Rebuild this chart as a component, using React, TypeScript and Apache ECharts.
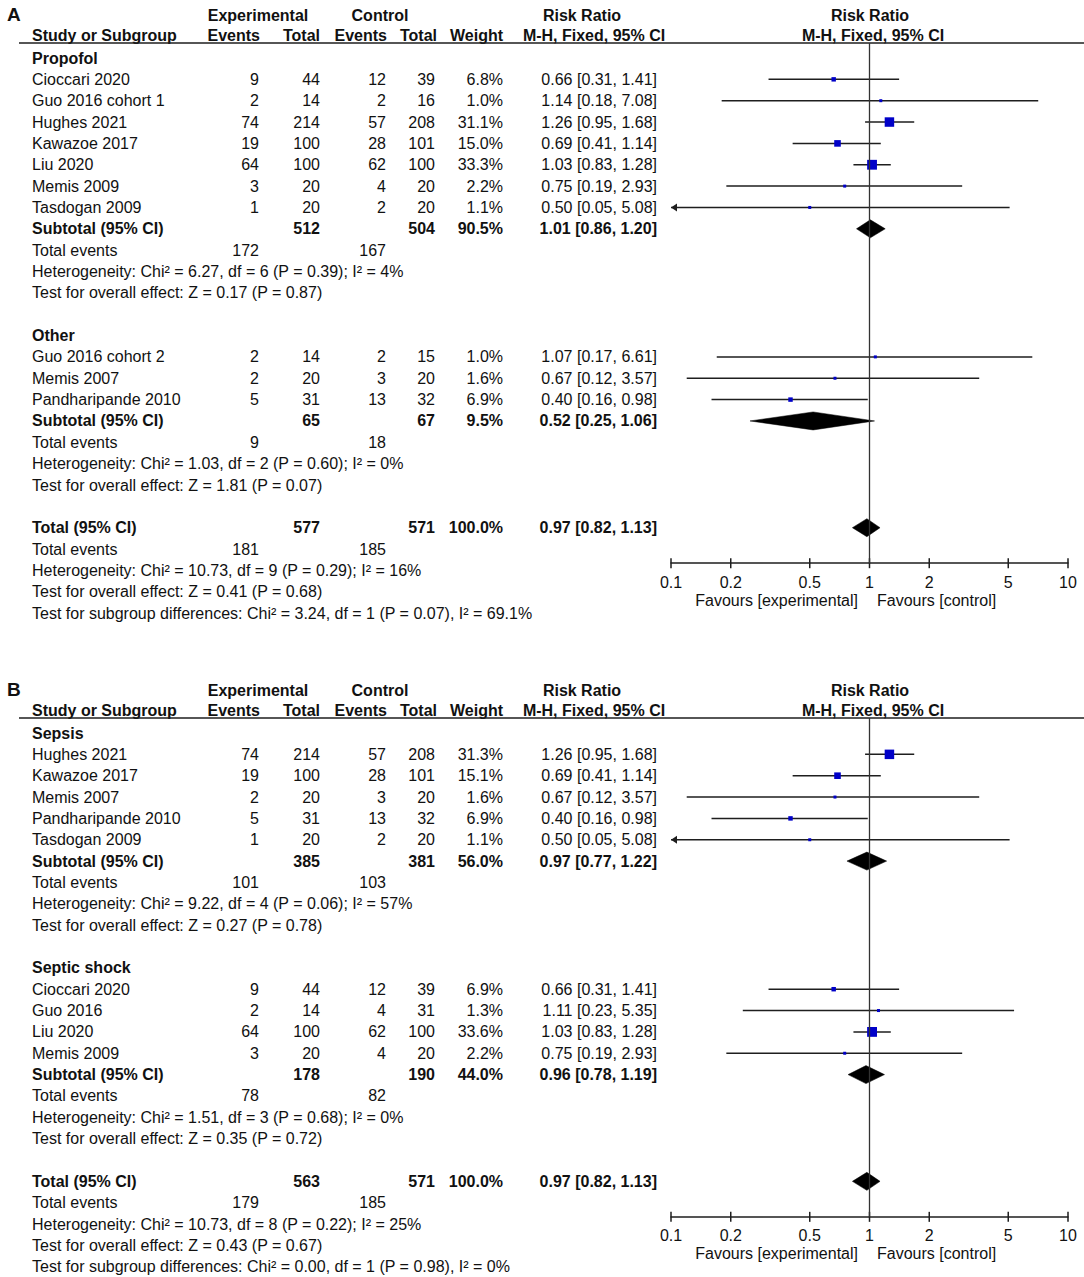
import React, { useEffect, useRef } from "react";
import * as echarts from "echarts";

// ---------- DATA ----------
// name, expEvents, expTotal, ctlEvents, ctlTotal, weight(%), RR, lower, upper
type Study = [string, number, number, number, number, number, number, number, number];

const A_PROPOFOL: Study[] = [
  ["Cioccari 2020", 9, 44, 12, 39, 6.8, 0.66, 0.31, 1.41],
  ["Guo 2016 cohort 1", 2, 14, 2, 16, 1.0, 1.14, 0.18, 7.08],
  ["Hughes 2021", 74, 214, 57, 208, 31.1, 1.26, 0.95, 1.68],
  ["Kawazoe 2017", 19, 100, 28, 101, 15.0, 0.69, 0.41, 1.14],
  ["Liu 2020", 64, 100, 62, 100, 33.3, 1.03, 0.83, 1.28],
  ["Memis 2009", 3, 20, 4, 20, 2.2, 0.75, 0.19, 2.93],
  ["Tasdogan 2009", 1, 20, 2, 20, 1.1, 0.5, 0.05, 5.08],
];
const A_PROPOFOL_SUM: Study = ["Subtotal (95% CI)", 172, 512, 167, 504, 90.5, 1.01, 0.86, 1.2];
const A_PROPOFOL_STATS = [
  "Heterogeneity: Chi² = 6.27, df = 6 (P = 0.39); I² = 4%",
  "Test for overall effect: Z = 0.17 (P = 0.87)",
];

const A_OTHER: Study[] = [
  ["Guo 2016 cohort 2", 2, 14, 2, 15, 1.0, 1.07, 0.17, 6.61],
  ["Memis 2007", 2, 20, 3, 20, 1.6, 0.67, 0.12, 3.57],
  ["Pandharipande 2010", 5, 31, 13, 32, 6.9, 0.4, 0.16, 0.98],
];
const A_OTHER_SUM: Study = ["Subtotal (95% CI)", 9, 65, 18, 67, 9.5, 0.52, 0.25, 1.06];
const A_OTHER_STATS = [
  "Heterogeneity: Chi² = 1.03, df = 2 (P = 0.60); I² = 0%",
  "Test for overall effect: Z = 1.81 (P = 0.07)",
];

const A_TOTAL: Study = ["Total (95% CI)", 181, 577, 185, 571, 100.0, 0.97, 0.82, 1.13];
const A_TOTAL_STATS = [
  "Heterogeneity: Chi² = 10.73, df = 9 (P = 0.29); I² = 16%",
  "Test for overall effect: Z = 0.41 (P = 0.68)",
  "Test for subgroup differences: Chi² = 3.24, df = 1 (P = 0.07), I² = 69.1%",
];

const B_SEPSIS: Study[] = [
  ["Hughes 2021", 74, 214, 57, 208, 31.3, 1.26, 0.95, 1.68],
  ["Kawazoe 2017", 19, 100, 28, 101, 15.1, 0.69, 0.41, 1.14],
  ["Memis 2007", 2, 20, 3, 20, 1.6, 0.67, 0.12, 3.57],
  ["Pandharipande 2010", 5, 31, 13, 32, 6.9, 0.4, 0.16, 0.98],
  ["Tasdogan 2009", 1, 20, 2, 20, 1.1, 0.5, 0.05, 5.08],
];
const B_SEPSIS_SUM: Study = ["Subtotal (95% CI)", 101, 385, 103, 381, 56.0, 0.97, 0.77, 1.22];
const B_SEPSIS_STATS = [
  "Heterogeneity: Chi² = 9.22, df = 4 (P = 0.06); I² = 57%",
  "Test for overall effect: Z = 0.27 (P = 0.78)",
];

const B_SHOCK: Study[] = [
  ["Cioccari 2020", 9, 44, 12, 39, 6.9, 0.66, 0.31, 1.41],
  ["Guo 2016", 2, 14, 4, 31, 1.3, 1.11, 0.23, 5.35],
  ["Liu 2020", 64, 100, 62, 100, 33.6, 1.03, 0.83, 1.28],
  ["Memis 2009", 3, 20, 4, 20, 2.2, 0.75, 0.19, 2.93],
];
const B_SHOCK_SUM: Study = ["Subtotal (95% CI)", 78, 178, 82, 190, 44.0, 0.96, 0.78, 1.19];
const B_SHOCK_STATS = [
  "Heterogeneity: Chi² = 1.51, df = 3 (P = 0.68); I² = 0%",
  "Test for overall effect: Z = 0.35 (P = 0.72)",
];

const B_TOTAL: Study = ["Total (95% CI)", 179, 563, 185, 571, 100.0, 0.97, 0.82, 1.13];
const B_TOTAL_STATS = [
  "Heterogeneity: Chi² = 10.73, df = 8 (P = 0.22); I² = 25%",
  "Test for overall effect: Z = 0.43 (P = 0.67)",
  "Test for subgroup differences: Chi² = 0.00, df = 1 (P = 0.98), I² = 0%",
];

const HEADER_TOP = ["Experimental", "Control", "Risk Ratio", "Risk Ratio"];
const HEADER_COLS = ["Study or Subgroup", "Events", "Total", "Events", "Total", "Weight", "M-H, Fixed, 95% CI", "M-H, Fixed, 95% CI"];
const TICKS = [0.1, 0.2, 0.5, 1, 2, 5, 10];
const TICK_LABELS = ["0.1", "0.2", "0.5", "1", "2", "5", "10"];
const FAVOURS = ["Favours [experimental]", "Favours [control]"];

const PANELS = [
  {
    label: "A",
    groups: [
      { name: "Propofol", studies: A_PROPOFOL, sum: A_PROPOFOL_SUM, stats: A_PROPOFOL_STATS },
      { name: "Other", studies: A_OTHER, sum: A_OTHER_SUM, stats: A_OTHER_STATS },
    ],
    total: A_TOTAL,
    totalStats: A_TOTAL_STATS,
  },
  {
    label: "B",
    groups: [
      { name: "Sepsis", studies: B_SEPSIS, sum: B_SEPSIS_SUM, stats: B_SEPSIS_STATS },
      { name: "Septic shock", studies: B_SHOCK, sum: B_SHOCK_SUM, stats: B_SHOCK_STATS },
    ],
    total: B_TOTAL,
    totalStats: B_TOTAL_STATS,
  },
];

// ---------- LAYOUT ----------
const PAGE_W = 1084;
const PAGE_H = 1277;
const FONT = '"Liberation Sans", Arial, Helvetica, sans-serif';
const FS = 16;
const PANEL_OFF = [0, 675];
const ROW0 = 58;
const ROWH = 21.35;
const HEAD1_Y = 15;
const HEAD2_Y = 35;
const RULE_Y = 43;
const AXIS_BELOW_TOTAL = 35.5;
const PLOT_L = 671;
const PLOT_R = 1068;
const X_NAME = 32;
const X_EXP_EV = 259;
const X_EXP_TOT = 320;
const X_CTL_EV = 386;
const X_CTL_TOT = 435;
const X_WEIGHT = 503;
const X_RR = 657;
const HEAD_TOP_X = [258, 380, 582, 870];
const HEAD_COL_X = [32, 260, 320, 387, 437, 503, 594, 873];
const HEAD_COL_ALIGN = ["left", "right", "right", "right", "right", "right", "center", "center"];
const XMIN = 0.1;
const XMAX = 10;
const INK = "#111";
const LINE = "#1e1e1e";
const SQUARE = "#0000c8";

function textEl(s: string, x: number, y: number, align: string, bold = false, size = FS) {
  return {
    type: "text",
    x,
    y,
    silent: true,
    style: {
      text: s,
      fill: INK,
      font: `${bold ? "bold " : ""}${size}px ${FONT}`,
      align,
      textAlign: align,
      verticalAlign: "middle",
      textVerticalAlign: "middle",
    },
  };
}

function fmtRR(s: Study) {
  return `${s[6].toFixed(2)} [${s[7].toFixed(2)}, ${s[8].toFixed(2)}]`;
}

function buildPanel(panel: any, off: number) {
  const texts: any[] = [];
  const marks: number[][] = [];
  const yOf = (r: number) => ROW0 + off + r * ROWH;
  texts.push(textEl(panel.label, 7, 14 + off, "left", true, 19));
  HEADER_TOP.forEach((h, i) => texts.push(textEl(h, HEAD_TOP_X[i], HEAD1_Y + off, "center", true)));
  HEADER_COLS.forEach((h, i) => texts.push(textEl(h, HEAD_COL_X[i], HEAD2_Y + off, HEAD_COL_ALIGN[i], true)));
  texts.push({
    type: "line",
    silent: true,
    shape: { x1: 19, y1: RULE_Y + off, x2: PAGE_W, y2: RULE_Y + off },
    style: { stroke: LINE, lineWidth: 1.5 },
  });

  let r = 0;
  let totalRow = 0;
  const summaryRows = (m: Study, stats: string[]) => {
    const y = yOf(r);
    texts.push(textEl(m[0], X_NAME, y, "left", true));
    texts.push(textEl(String(m[2]), X_EXP_TOT, y, "right", true));
    texts.push(textEl(String(m[4]), X_CTL_TOT, y, "right", true));
    texts.push(textEl(`${m[5].toFixed(1)}%`, X_WEIGHT, y, "right", true));
    texts.push(textEl(fmtRR(m), X_RR, y, "right", true));
    marks.push([r, m[6], m[7], m[8], m[5], 1]);
    const row = r;
    r++;
    const y2 = yOf(r);
    texts.push(textEl("Total events", X_NAME, y2, "left"));
    texts.push(textEl(String(m[1]), X_EXP_EV, y2, "right"));
    texts.push(textEl(String(m[3]), X_CTL_EV, y2, "right"));
    r++;
    stats.forEach((s) => {
      texts.push(textEl(s, X_NAME, yOf(r), "left"));
      r++;
    });
    return row;
  };

  panel.groups.forEach((g: any) => {
    texts.push(textEl(g.name, X_NAME, yOf(r), "left", true));
    r++;
    g.studies.forEach((s: Study) => {
      const y = yOf(r);
      texts.push(textEl(s[0], X_NAME, y, "left"));
      texts.push(textEl(String(s[1]), X_EXP_EV, y, "right"));
      texts.push(textEl(String(s[2]), X_EXP_TOT, y, "right"));
      texts.push(textEl(String(s[3]), X_CTL_EV, y, "right"));
      texts.push(textEl(String(s[4]), X_CTL_TOT, y, "right"));
      texts.push(textEl(`${s[5].toFixed(1)}%`, X_WEIGHT, y, "right"));
      texts.push(textEl(fmtRR(s), X_RR, y, "right"));
      marks.push([r, s[6], s[7], s[8], s[5], 0]);
      r++;
    });
    summaryRows(g.sum, g.stats);
    r++; // blank row
  });
  totalRow = summaryRows(panel.total, panel.totalStats);

  const axisY = yOf(totalRow) + AXIS_BELOW_TOTAL;
  const favY = axisY + 37;
  texts.push(textEl(FAVOURS[0], 858, favY, "right"));
  texts.push(textEl(FAVOURS[1], 877, favY, "left"));
  return { texts, marks, axisY };
}

function renderForest(params: any, api: any) {
  const row = api.value(0);
  const est = api.value(1);
  const lo = api.value(2);
  const hi = api.value(3);
  const w = api.value(4);
  const kind = api.value(5);
  const [xe, y] = api.coord([est, row]);
  const [xl] = api.coord([Math.max(lo, XMIN), row]);
  const [xh] = api.coord([Math.min(hi, XMAX), row]);
  if (kind === 1) {
    return {
      type: "polygon",
      shape: { points: [[xl, y], [xe, y - 9], [xh, y], [xe, y + 9]] },
      style: { fill: "#000", stroke: "#000", lineWidth: 0.5 },
    };
  }
  const size = Math.max(3, 1.7 * Math.sqrt(w));
  const children: any[] = [
    { type: "line", shape: { x1: xl, y1: y, x2: xh, y2: y }, style: { stroke: LINE, lineWidth: 1.5 } },
    { type: "rect", shape: { x: xe - size / 2, y: y - size / 2, width: size, height: size }, style: { fill: SQUARE } },
  ];
  if (lo < XMIN) {
    children.push({ type: "polygon", shape: { points: [[xl, y], [xl + 6, y - 4], [xl + 6, y + 4]] }, style: { fill: LINE } });
  }
  if (hi > XMAX) {
    children.push({ type: "polygon", shape: { points: [[xh, y], [xh - 6, y - 4], [xh - 6, y + 4]] }, style: { fill: LINE } });
  }
  return { type: "group", children };
}

function makeTickRenderer(yMax: number) {
  return (params: any, api: any) => {
    const v = api.value(0);
    const [x, y] = api.coord([v, yMax]);
    return {
      type: "group",
      children: [
        { type: "line", shape: { x1: x, y1: y - 5, x2: x, y2: y + 5 }, style: { stroke: LINE, lineWidth: 1.5 } },
        {
          type: "text",
          x,
          y: y + 19,
          style: {
            text: TICK_LABELS[params.dataIndex],
            fill: INK,
            font: `${FS}px ${FONT}`,
            align: "center",
            textAlign: "center",
            verticalAlign: "middle",
            textVerticalAlign: "middle",
          },
        },
      ],
    };
  };
}

export default function App() {
  const ref = useRef<HTMLDivElement>(null);
  useEffect(() => {
    document.body.style.margin = "0";
    if (!ref.current) return;
    const chart = echarts.init(ref.current, undefined, { renderer: "svg" });
    const graphics: any[] = [];
    const grids: any[] = [];
    const xAxes: any[] = [];
    const yAxes: any[] = [];
    const series: any[] = [];
    PANELS.forEach((p, i) => {
      const off = PANEL_OFF[i];
      const { texts, marks, axisY } = buildPanel(p, off);
      const yMin = (RULE_Y - ROW0) / ROWH;
      const yMax = (axisY - ROW0 - off) / ROWH;
      graphics.push(...texts);
      grids.push({ left: PLOT_L, top: RULE_Y + off, width: PLOT_R - PLOT_L, height: axisY - RULE_Y - off, show: false });
      xAxes.push({
        type: "log",
        logBase: 10,
        gridIndex: i,
        min: XMIN,
        max: XMAX,
        position: "bottom",
        axisLine: { show: true, onZero: false, lineStyle: { color: LINE, width: 1.5 } },
        axisTick: { show: false },
        axisLabel: { show: false },
        splitLine: { show: false },
      });
      yAxes.push({
        type: "value",
        gridIndex: i,
        inverse: true,
        min: yMin,
        max: yMax,
        show: false,
        splitLine: { show: false },
      });
      series.push({
        type: "custom",
        xAxisIndex: i,
        yAxisIndex: i,
        encode: { x: [1, 2, 3], y: 0 },
        data: marks,
        renderItem: renderForest,
        silent: true,
        z: 3,
        markLine: {
          silent: true,
          symbol: "none",
          label: { show: false },
          lineStyle: { color: "#333", width: 1.3, type: "solid" },
          data: [{ xAxis: 1 }],
          z: 4,
        },
      });
      series.push({
        type: "custom",
        xAxisIndex: i,
        yAxisIndex: i,
        encode: { x: 0 },
        data: TICKS.map((v) => [v]),
        renderItem: makeTickRenderer(yMax),
        silent: true,
        z: 3,
      });
    });
    chart.setOption({
      animation: false,
      backgroundColor: "#fff",
      grid: grids,
      xAxis: xAxes,
      yAxis: yAxes,
      series,
      graphic: { elements: graphics },
    });
    return () => chart.dispose();
  }, []);
  return (
    <div
      ref={ref}
      style={{ width: PAGE_W, height: PAGE_H, position: "absolute", left: 0, top: 0, background: "#fff" }}
    />
  );
}
